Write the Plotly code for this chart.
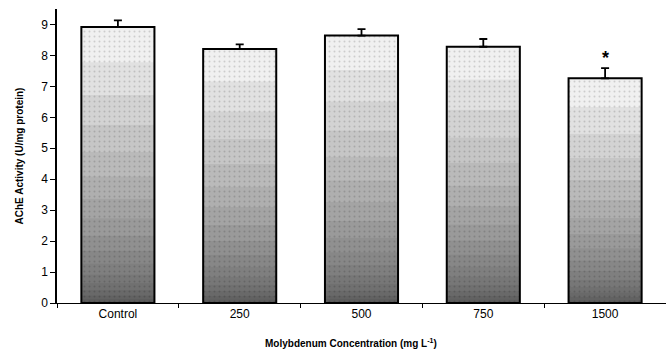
import plotly.graph_objects as go
import numpy as np

categories = ["Control", "250", "500", "750", "1500"]
ache_activity = [8.92, 8.21, 8.64, 8.28, 7.26]
sem = [0.21, 0.15, 0.21, 0.25, 0.33]
significance = ["", "", "", "", "*"]
y_ticks = [0, 1, 2, 3, 4, 5, 6, 7, 8, 9]

vals = np.array(ache_activity)
errs = np.array(sem)
fig = go.Figure()

# gradient-like fill: overlaid translucent bars, denser near the bottom
N = 18
for i in range(1, N + 1):
    frac = (i / N) ** 2.4
    fig.add_trace(go.Bar(
        x=categories, y=vals * frac, width=0.6,
        marker=dict(color="rgba(0,0,0,0.06)", line=dict(width=0)),
        hoverinfo="skip", showlegend=False))

# stipple + outline + error bars
fig.add_trace(go.Bar(
    x=categories, y=vals, width=0.6,
    marker=dict(color="rgba(0,0,0,0)", line=dict(color="black", width=2),
                pattern=dict(shape=".", fgcolor="rgba(0,0,0,0.3)", bgcolor="rgba(0,0,0,0)",
                             size=5, solidity=0.12)),
    error_y=dict(type="data", array=sem, arrayminus=[0] * len(sem), symmetric=False,
                 color="black", thickness=1.8, width=4),
    showlegend=False))

annotations = [dict(text="<b>Molybdenum Concentration (mg L<sup>-1</sup>)</b>", xref="paper", yref="paper",
                    x=0.483, y=-0.135, xanchor="center", yanchor="middle", showarrow=False,
                    font=dict(size=10))]
for idx, (v, e, s) in enumerate(zip(vals, errs, significance)):
    if s:
        annotations.append(dict(text="<b>" + s + "</b>", x=idx, y=float(v + e), xref="x", yref="y",
                                yanchor="bottom", yshift=-2, showarrow=False,
                                font=dict(size=18, color="black")))

fig.update_layout(
    barmode="overlay",
    width=666, height=352,
    margin=dict(l=57, r=0, t=9, b=49),
    plot_bgcolor="white", paper_bgcolor="white",
    font=dict(family="Liberation Sans", color="black"),
    xaxis=dict(range=[-0.5, 4.5], showline=True, linecolor="black", linewidth=1,
               ticks="outside", tickson="boundaries", ticklen=4, tickcolor="black",
               tickfont=dict(size=12), showgrid=False, zeroline=False),
    yaxis=dict(range=[0, 9.5], tickvals=y_ticks, showline=True, linecolor="black", linewidth=1.5,
               ticks="outside", ticklen=5, tickcolor="black", tickfont=dict(size=12),
               showgrid=False, zeroline=False,
               title=dict(text="<b>AChE Activity (U/mg protein)</b>", font=dict(size=10), standoff=16)),
    annotations=annotations,
)

fig.write_html("out.html")
